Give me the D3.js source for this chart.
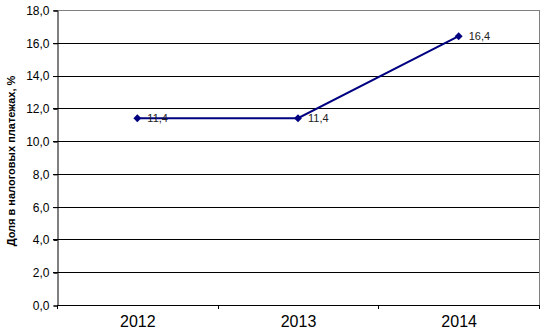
<!DOCTYPE html>
<html>
<head>
<meta charset="utf-8">
<script src="https://cdn.jsdelivr.net/npm/d3@7"></script>
<style>
  body { margin: 0; background: #fff; }
  text { font-family: Arial, "Liberation Sans", sans-serif; }
</style>
</head>
<body>
<div id="graf"></div>
<script>
var years = ["2012", "2013", "2014"]
var shares = [11.4, 11.4, 16.4]
var yTicks = [0, 2, 4, 6, 8, 10, 12, 14, 16, 18]

var W = 549, H = 333
var plotLeft = 57, plotRight = 539, plotTop = 10, plotBottom = 305

var svg = d3.select('#graf')
            .append('svg')
            .attr('width', W)
            .attr('height', H)

var x = d3.scalePoint()
          .domain(years)
          .range([plotLeft, plotRight])
          .padding(0.5)

// band scale only used for the category boundary ticks
var xb = d3.scaleBand()
          .domain(years)
          .range([plotLeft, plotRight])

var y = d3.scaleLinear()
          .domain([0, 18])
          .range([plotBottom, plotTop])

var fmt = d => d.toFixed(1).replace('.', ',')

// gridlines
svg.append("g")
  .selectAll("line")
  .data(yTicks.filter(d => d > 0))
  .join("line")
  .attr("x1", plotLeft - 4)
  .attr("x2", plotRight)
  .attr("y1", d => Math.round(y(d)) + 0.5)
  .attr("y2", d => Math.round(y(d)) + 0.5)
  .attr("stroke", d => d == 18 ? "#808080" : "#000")

// right border
svg.append("line")
  .attr("x1", plotRight + 0.5).attr("x2", plotRight + 0.5)
  .attr("y1", plotTop).attr("y2", plotBottom)
  .attr("stroke", "#808080")

// y axis
svg.append("g")
  .attr("transform", "translate(" + (plotLeft + 0.5) + ",0.5)")
  .call(d3.axisLeft(y).tickValues(yTicks).tickFormat(fmt).tickSize(4).tickPadding(4))
  .call(g => g.selectAll("text").attr("font-size", 12).attr("fill", "#000").attr("font-family", "Arial, 'Liberation Sans', sans-serif"))
  .call(g => g.selectAll("line, path").attr("stroke", "#000"))

// x axis
svg.append("g")
  .attr("transform", "translate(0," + (plotBottom + 0.5) + ")")
  .call(d3.axisBottom(x).tickSize(0).tickPadding(10))
  .call(g => g.select(".domain").attr("d", "M" + plotLeft + ",0H" + (plotRight + 1)).attr("stroke", "#000"))
  .call(g => g.selectAll("text").attr("font-size", 16).attr("fill", "#000").attr("font-family", "Arial, 'Liberation Sans', sans-serif"))

// category boundary ticks
var bounds = years.map(d => xb(d)).concat([plotRight])
svg.append("g")
  .selectAll("line")
  .data(bounds)
  .join("line")
  .attr("x1", d => Math.round(d) + 0.5)
  .attr("x2", d => Math.round(d) + 0.5)
  .attr("y1", plotBottom)
  .attr("y2", plotBottom + 4)
  .attr("stroke", "#000")

// axis title
svg.append("text")
  .attr("transform", "translate(15,161) rotate(-90)")
  .attr("text-anchor", "middle")
  .attr("font-size", 11)
  .attr("font-weight", "bold")
  .text("Доля в налоговых платежах, %")

// line
var line = d3.line()
  .x((d, i) => x(years[i]))
  .y(d => y(d))

svg.append("path")
  .datum(shares)
  .attr("d", line)
  .attr("fill", "none")
  .attr("stroke", "#000080")
  .attr("stroke-width", 2)

svg.append("g")
  .selectAll("path")
  .data(shares)
  .join("path")
  .attr("d", d3.symbol(d3.symbolDiamond2, 40))
  .attr("transform", (d, i) => "translate(" + x(years[i]) + "," + y(d) + ")")
  .attr("fill", "#000080")

svg.append("g")
  .selectAll("text")
  .data(shares)
  .join("text")
  .attr("x", (d, i) => x(years[i]) + 10)
  .attr("y", d => y(d) + 4)
  .attr("font-size", 11)
  .attr("fill", "#222")
  .text(fmt)
</script>
</body>
</html>
